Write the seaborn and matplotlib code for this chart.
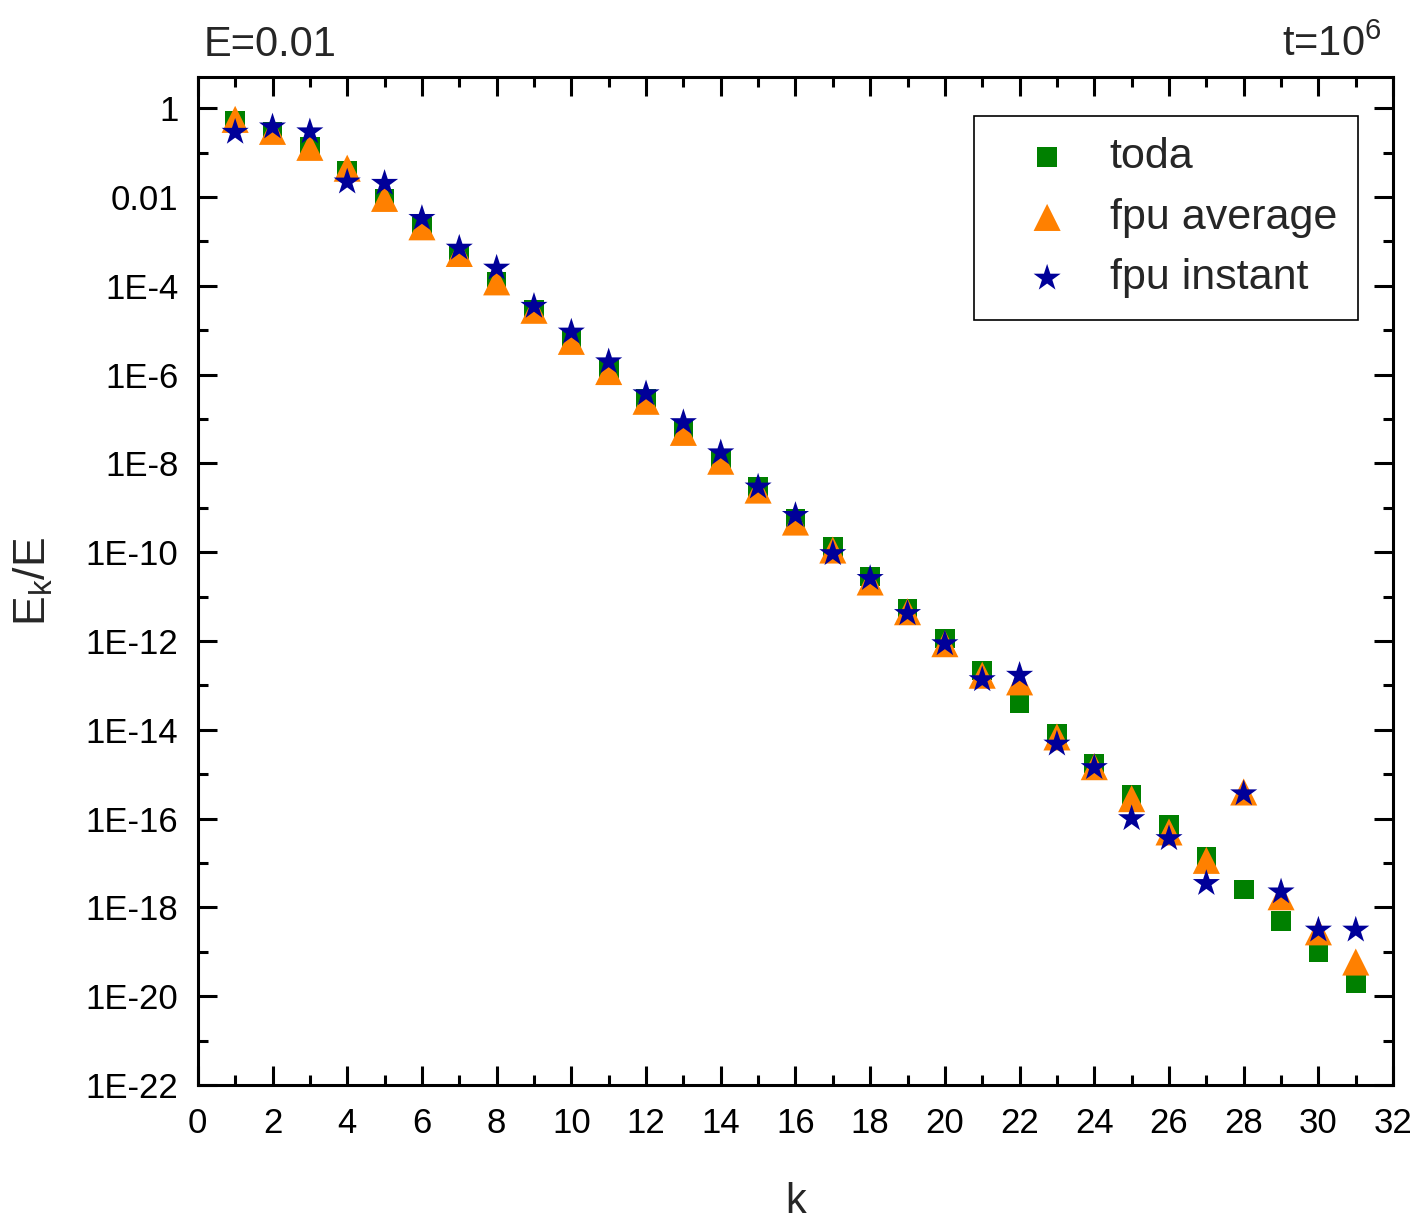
import numpy as np
import pandas as pd
import matplotlib
matplotlib.use("Agg")
import matplotlib.pyplot as plt
import matplotlib.ticker as mticker
import seaborn as sns

# log10(E_k/E), k = 1..31
k = list(range(1, 32))
toda_log = [-0.29, -0.53, -0.87, -1.40, -2.03, -2.67, -3.27, -3.91, -4.55, -5.22,
            -5.90, -6.54, -7.25, -7.89, -8.53, -9.24, -9.88, -10.55, -11.27, -11.94,
            -12.66, -13.39, -14.08, -14.76, -15.47, -16.15, -16.86, -17.60, -18.31, -19.00,
            -19.71]
avg_log = [-0.25, -0.52, -0.88, -1.35, -2.03, -2.67, -3.27, -3.91, -4.55, -5.25,
           -5.93, -6.60, -7.30, -7.95, -8.60, -9.32, -9.95, -10.67, -11.34, -12.06,
           -12.77, -12.92, -14.16, -14.83, -15.55, -16.30, -16.94, -15.40, -17.76, -18.55,
           -19.23]
inst_log = [-0.54, -0.42, -0.53, -1.66, -1.69, -2.48, -3.15, -3.60, -4.46, -5.04,
            -5.71, -6.43, -7.08, -7.76, -8.53, -9.17, -10.03, -10.59, -11.38, -12.06,
            -12.87, -12.77, -14.32, -14.85, -16.00, -16.45, -17.46, -15.44, -17.65, -18.51,
            -18.51]

df = pd.DataFrame({
    "k": k,
    "toda": np.power(10.0, toda_log),
    "fpu average": np.power(10.0, avg_log),
    "fpu instant": np.power(10.0, inst_log),
})

sns.set_style("ticks")
plt.rcParams["font.family"] = ["Liberation Sans", "DejaVu Sans"]

fig = plt.figure(figsize=(14.23, 12.26), dpi=100)
ax = fig.add_axes([0.139, 0.115, 0.840, 0.822])

sns.scatterplot(data=df, x="k", y="toda", marker="s", s=200, color="#008000",
                edgecolor="none", label="toda", ax=ax, zorder=3)
sns.scatterplot(data=df, x="k", y="fpu average", marker="^", s=380, color="#FF8000",
                edgecolor="none", label="fpu average", ax=ax, zorder=4)
sns.scatterplot(data=df, x="k", y="fpu instant", marker="*", s=420, color="#000099",
                edgecolor="none", label="fpu instant", ax=ax, zorder=5)

ax.set_yscale("log")
ax.set_xlim(0, 32)
ax.set_ylim(1e-22, 5)

ax.xaxis.set_major_locator(mticker.MultipleLocator(2))
ax.xaxis.set_minor_locator(mticker.MultipleLocator(1))

major = [10.0 ** e for e in range(-22, 1, 2)]
labels = []
for e in range(-22, 1, 2):
    if e == 0:
        labels.append("1")
    elif e == -2:
        labels.append("0.01")
    else:
        labels.append("1E%d" % e)
ax.yaxis.set_major_locator(mticker.FixedLocator(major))
ax.yaxis.set_major_formatter(mticker.FixedFormatter(labels))
ax.yaxis.set_minor_locator(mticker.FixedLocator([10.0 ** e for e in range(-21, 1, 2)]))
ax.yaxis.set_minor_formatter(mticker.NullFormatter())

ax.tick_params(which="both", direction="in", top=True, right=True, width=2.2,
               labelsize=25, colors="black")
ax.tick_params(which="major", length=14)
ax.tick_params(which="minor", length=7)
ax.tick_params(axis="y", which="major", pad=14)
ax.tick_params(axis="x", which="major", pad=16)
for sp in ax.spines.values():
    sp.set_linewidth(2.2)
    sp.set_color("black")

ax.set_xlabel("k", fontsize=30, labelpad=30)
ax.set_ylabel("E$_\\mathregular{k}$/E", fontsize=32, labelpad=22)

ax.text(0.005, 1.012, "E=0.01", transform=ax.transAxes, fontsize=30,
        ha="left", va="bottom")
ax.text(0.99, 1.012, "t=10$^\\mathregular{6}$", transform=ax.transAxes, fontsize=30,
        ha="right", va="bottom")

leg = ax.legend(loc="upper right", bbox_to_anchor=(0.971, 0.962), borderaxespad=0,
                fontsize=31, frameon=True, fancybox=False, edgecolor="black",
                framealpha=1, handlelength=2.4, handletextpad=0.25, borderpad=0.5,
                labelspacing=0.48)
leg.get_frame().set_linewidth(1.2)

fig.savefig("out.png", dpi=100)
